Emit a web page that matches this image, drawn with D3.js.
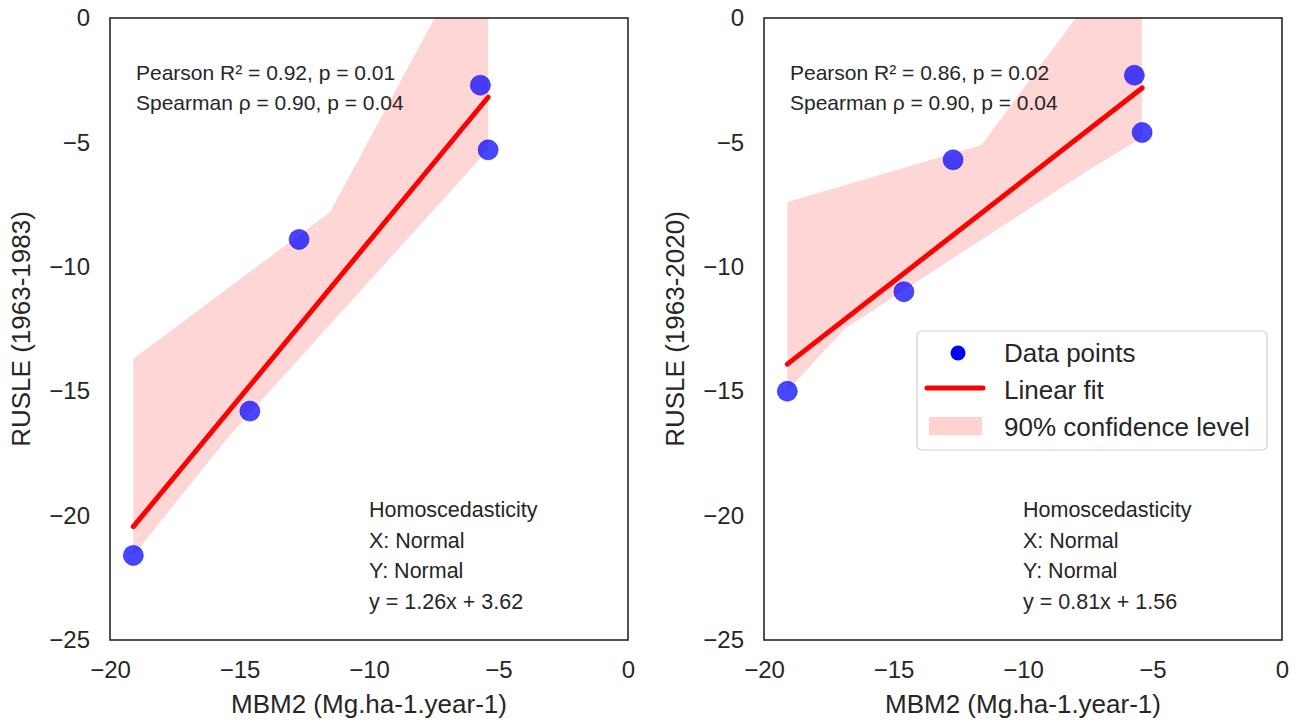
<!DOCTYPE html>
<html>
<head>
<meta charset="utf-8">
<script src="https://cdn.jsdelivr.net/npm/d3@7"></script>
<style>
  body { margin: 0; background: #fff; }
  svg { display: block; font-family: "Liberation Sans", Arial, sans-serif; }
</style>
</head>
<body>
<svg id="chart"></svg>
<script>
// data
const mbm2 = [-19.1, -14.6, -12.7, -5.7, -5.4];
const rusle1983 = [-21.6, -15.8, -8.9, -2.7, -5.3];
const rusle2020 = [-15.0, -11.0, -5.7, -2.3, -4.6];

const fit1983 = [1.26, 3.62]; // slope, intercept
const fit2020 = [0.81, 1.56];

// 90% confidence band outline (upper / lower edges)
const band1983UpperX = [-19.1, -11.5, -5.4];
const band1983UpperY = [-13.7, -7.8, 4.0];
const band1983LowerX = [-19.1, -15.4, -5.4];
const band1983LowerY = [-21.6, -16.8, -5.3];
const band2020UpperX = [-19.1, -11.6, -5.4];
const band2020UpperY = [-7.4, -5.1, 3.6];
const band2020LowerX = [-19.1, -16.9, -7.6, -5.4];
const band2020LowerY = [-15.0, -12.5, -6.2, -4.8];

const stats1983 = ["Pearson R² = 0.92, p = 0.01", "Spearman ρ = 0.90, p = 0.04"];
const stats2020 = ["Pearson R² = 0.86, p = 0.02", "Spearman ρ = 0.90, p = 0.04"];
const notes1983 = ["Homoscedasticity", "X: Normal", "Y: Normal", "y = 1.26x + 3.62"];
const notes2020 = ["Homoscedasticity", "X: Normal", "Y: Normal", "y = 0.81x + 1.56"];

const xTicks = [-20, -15, -10, -5, 0];
const yTicks = [-25, -20, -15, -10, -5, 0];
const xLabel = "MBM2 (Mg.ha-1.year-1)";
const legendLabels = ["Data points", "Linear fit", "90% confidence level"];

const textColor = "#262626";
const svg = d3.select("#chart").attr("width", 1296).attr("height", 721);

function drawPanel(opts) {
  const left = opts.left, top = 18, w = 518, h = 622;
  const g = svg.append("g").attr("transform", `translate(${left},${top})`);

  const x = d3.scaleLinear().domain([-20, 0]).range([0, w]);
  const y = d3.scaleLinear().domain([-25, 0]).range([h, 0]);

  const clipId = "clip" + opts.id;
  g.append("clipPath").attr("id", clipId)
    .append("rect").attr("width", w).attr("height", h);

  const plot = g.append("g").attr("clip-path", `url(#${clipId})`);

  // confidence band
  const upper = opts.upX.map((d, i) => [x(d), y(opts.upY[i])]);
  const lower = opts.loX.map((d, i) => [x(d), y(opts.loY[i])]).reverse();
  plot.append("path")
    .attr("d", d3.line()(upper.concat(lower)) + "Z")
    .attr("fill", "#ff0000")
    .attr("fill-opacity", 0.16);

  // points
  plot.selectAll("circle")
    .data(mbm2.map((d, i) => [d, opts.yVals[i]]))
    .join("circle")
    .attr("cx", d => x(d[0]))
    .attr("cy", d => y(d[1]))
    .attr("r", 10)
    .attr("fill", "#0000ff")
    .attr("fill-opacity", 0.72)
    .attr("stroke", "#0000ff")
    .attr("stroke-opacity", 0.5)
    .attr("stroke-width", 1);

  // fit line
  const xMin = d3.min(mbm2), xMax = d3.max(mbm2);
  plot.append("line")
    .attr("x1", x(xMin)).attr("y1", y(opts.fit[0] * xMin + opts.fit[1]))
    .attr("x2", x(xMax)).attr("y2", y(opts.fit[0] * xMax + opts.fit[1]))
    .attr("stroke", "#ff0000")
    .attr("stroke-width", 5)
    .attr("stroke-linecap", "round");

  // frame
  g.append("rect").attr("width", w).attr("height", h)
    .attr("fill", "none").attr("stroke", textColor).attr("stroke-width", 1.6);

  // axes
  const xAxis = g.append("g").attr("transform", `translate(0,${h})`)
    .call(d3.axisBottom(x).tickValues(xTicks).tickSize(0).tickPadding(20));
  const yAxis = g.append("g")
    .call(d3.axisLeft(y).tickValues(yTicks).tickSize(0).tickPadding(20));
  [xAxis, yAxis].forEach(a => {
    a.select(".domain").remove();
    a.selectAll("text")
      .attr("fill", textColor)
      .style("font-size", "24px")
      .style("font-family", "'Liberation Sans', Arial, sans-serif");
  });
  xAxis.selectAll("text").attr("dy", "0.71em").attr("y", 21);

  g.append("text")
    .attr("x", w / 2).attr("y", h + 73)
    .attr("text-anchor", "middle")
    .attr("fill", textColor)
    .style("font-size", "26px")
    .text(xLabel);

  g.append("text")
    .attr("transform", `translate(${-80},${h / 2}) rotate(-90)`)
    .attr("text-anchor", "middle")
    .attr("fill", textColor)
    .style("font-size", "26px")
    .text(opts.yLabel);

  // annotation text
  opts.stats.forEach((t, i) => {
    g.append("text")
      .attr("x", 26).attr("y", 62 + i * 30)
      .attr("fill", textColor).style("font-size", "21px").text(t);
  });
  opts.notes.forEach((t, i) => {
    g.append("text")
      .attr("x", w / 2).attr("y", 499 + i * 30.5)
      .attr("fill", textColor).style("font-size", "21.5px").text(t);
  });

  return { g, x, y, w, h };
}

drawPanel({
  id: 1, left: 110, yVals: rusle1983, fit: fit1983,
  upX: band1983UpperX, upY: band1983UpperY, loX: band1983LowerX, loY: band1983LowerY,
  stats: stats1983, notes: notes1983, yLabel: "RUSLE (1963-1983)"
});
const right = drawPanel({
  id: 2, left: 764, yVals: rusle2020, fit: fit2020,
  upX: band2020UpperX, upY: band2020UpperY, loX: band2020LowerX, loY: band2020LowerY,
  stats: stats2020, notes: notes2020, yLabel: "RUSLE (1963-2020)"
});

// legend (right panel)
const lg = right.g.append("g").attr("transform", "translate(153,313)");
lg.append("rect")
  .attr("width", 350).attr("height", 119).attr("rx", 5)
  .attr("fill", "#fff").attr("fill-opacity", 0.85)
  .attr("stroke", "#d0d0d0").attr("stroke-width", 1.2);
lg.append("circle").attr("cx", 41).attr("cy", 22).attr("r", 7.5).attr("fill", "#0000ff");
lg.append("line").attr("x1", 10).attr("x2", 66).attr("y1", 57).attr("y2", 57)
  .attr("stroke", "#ff0000").attr("stroke-width", 5).attr("stroke-linecap", "round");
lg.append("rect").attr("x", 12).attr("y", 86).attr("width", 53).attr("height", 18)
  .attr("fill", "#ff0000").attr("fill-opacity", 0.18);
legendLabels.forEach((t, i) => {
  lg.append("text")
    .attr("x", 87).attr("y", 31 + i * 37)
    .attr("fill", textColor).style("font-size", "26px").text(t);
});
</script>
</body>
</html>
